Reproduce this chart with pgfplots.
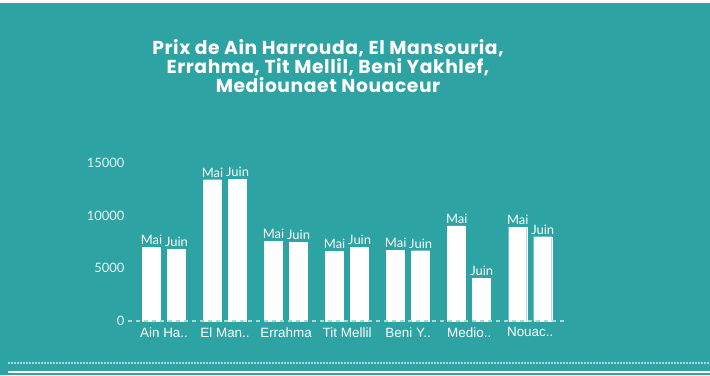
\documentclass[border=0pt]{standalone}
\usepackage{pgfplots}
\pgfplotsset{compat=1.18}
\usepackage{fontspec}
\setmainfont{Lato}
\newfontfamily\titlefont[LetterSpace=3]{Poppins}
\newfontfamily\catfont{Liberation Sans}
\definecolor{bg}{HTML}{2EA3A3}
\definecolor{axisgray}{HTML}{A9D9D9}
\definecolor{ticktext}{HTML}{E6F4F4}
\begin{document}
\begin{tikzpicture}[x=1bp,y=1bp]
\path[use as bounding box] (0,0) rectangle (710,375);
\fill[bg] (0,0) rectangle (710,375);
\fill[white] (0,372) rectangle (710,375);
\draw[axisgray, line width=1.2bp, dash pattern=on 1.5bp off 1.5bp] (8,12) -- (710,12);
\fill[white] (8,2) rectangle (710,4.5);
\node[font=\titlefont\bfseries\fontsize{18.8}{19}\selectfont, text=white, align=center] at (328,309)
  {Prix de Ain Harrouda, El Mansouria,\\Errahma, Tit Mellil, Beni Yakhlef,\\Mediounaet Nouaceur};
\begin{axis}[
  at={(128bp,54bp)}, anchor=south west,
  scale only axis, width=437bp, height=158bp,
  xmin=-0.59, xmax=6.57, ymin=0, ymax=15000,
  axis line style={draw=none},
  ytick={0,5000,10000,15000},
  xtick={0,...,6},
  xticklabels={Ain Ha..,El Man..,Errahma,Tit Mellil,Beni Y..,Medio..,Nouac..},
  x tick label style={font=\catfont\fontsize{13.5}{15}\selectfont, text=white, yshift=-3bp},
  y tick label style={font=\fontsize{13}{15}\selectfont, text=ticktext},
  /pgf/number format/assume math mode=true,
  /pgf/number format/1000 sep={},
  scaled y ticks=false,
  major tick length=0pt,
  ybar=7bp, bar width=18bp,
  clip=false,
  every node near coord/.append style={font=\fontsize{13}{15}\selectfont, text=white, yshift=-1bp},
]
\addplot[fill=white, draw=white, nodes near coords={Mai}] coordinates {
  (0,7020) (1,13410) (2,7560) (3,6640) (4,6700) (5,9040) (6,8920)};
\addplot[fill=white, draw=white, nodes near coords={Juin}] coordinates {
  (0,6800) (1,13450) (2,7500) (3,7020) (4,6670) (5,4080) (6,8000)};
\draw[axisgray, line width=1.2bp, dash pattern=on 4bp off 4bp] (axis cs:-0.59,0) -- (axis cs:6.57,0);
\end{axis}
\end{tikzpicture}
\end{document}
